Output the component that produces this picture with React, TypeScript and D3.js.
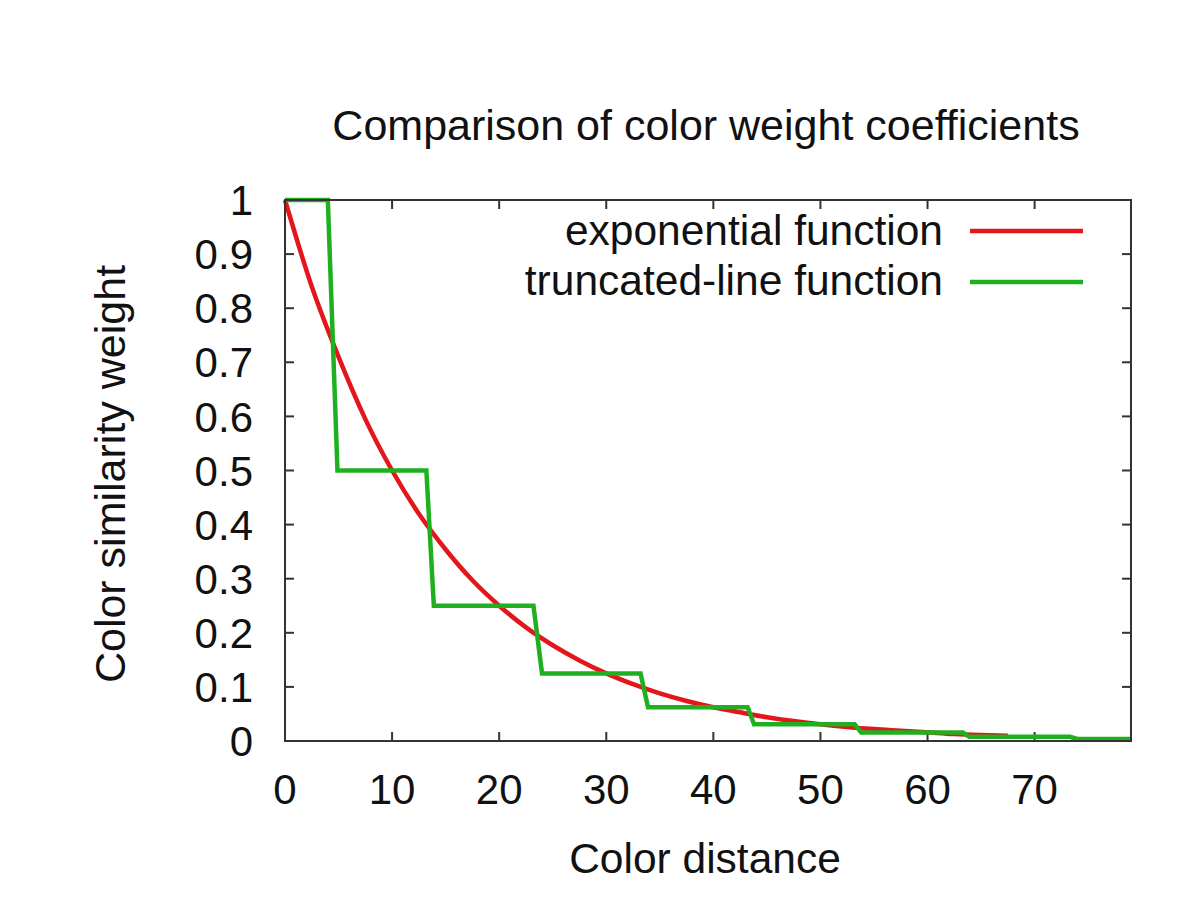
import React from "react";
import * as d3 from "d3";

const title = "Comparison of color weight coefficients";
const xLabel = "Color distance";
const yLabel = "Color similarity weight";
const seriesNames = ["exponential function", "truncated-line function"];

const xTicks = [0, 10, 20, 30, 40, 50, 60, 70];
const yTicks = [0, 0.1, 0.2, 0.3, 0.4, 0.5, 0.6, 0.7, 0.8, 0.9, 1];
const yTickLabels = ["0", "0.1", "0.2", "0.3", "0.4", "0.5", "0.6", "0.7", "0.8", "0.9", "1"];

const expX = [0, 2.5, 5, 7.5, 10, 12.5, 15, 17.5, 20, 22.5, 25, 27.5, 30, 32.5, 35, 37.5, 40, 42.5, 45, 47.5, 50, 52.5, 55, 57.5, 60, 62.5, 65, 67.5];
const expY = [1, 0.84, 0.71, 0.595, 0.5, 0.42, 0.354, 0.297, 0.25, 0.21, 0.177, 0.149, 0.125, 0.105, 0.088, 0.074, 0.0625, 0.053, 0.044, 0.037, 0.031, 0.026, 0.022, 0.019, 0.016, 0.013, 0.011, 0.0095];

const truncX = [0, 4, 4.9, 13.2, 13.9, 23.2, 24, 33.2, 33.9, 43.2, 43.8, 53.2, 53.8, 63.3, 63.9, 73.3, 74, 79];
const truncY = [1, 1, 0.5, 0.5, 0.25, 0.25, 0.125, 0.125, 0.0625, 0.0625, 0.031, 0.031, 0.0156, 0.0156, 0.0078, 0.0078, 0.0039, 0.0039];

const W = 1200, H = 900;
const FONT = "'Liberation Sans', Arial, Helvetica, sans-serif";

export default function App() {
  const x = d3.scaleLinear().domain([0, 79]).range([285, 1131]);
  const y = d3.scaleLinear().domain([0, 1]).range([741, 200]);
  const expLine = d3.line<[number, number]>().x(d => x(d[0])).y(d => y(d[1])).curve(d3.curveMonotoneX);
  const stepLine = d3.line<[number, number]>().x(d => x(d[0])).y(d => y(d[1]));
  const expPts = expX.map((v, i) => [v, expY[i]] as [number, number]);
  const truncPts = truncX.map((v, i) => [v, truncY[i]] as [number, number]);
  const [x0, x1] = x.range();
  const [y0, y1] = y.range();
  const tl = 9;
  const axisColor = "#333";
  const red = "#e3161b";
  const green = "#1fb01f";

  return (
    <svg width={W} height={H} style={{ position: "absolute", left: 0, top: 0, background: "#fff" }} fontFamily={FONT}>
      <rect x={0} y={0} width={W} height={H} fill="#fff" />
      {yTicks.map((t, i) => (
        <g key={"yt" + i}>
          <line x1={x0} x2={x0 + tl} y1={y(t)} y2={y(t)} stroke={axisColor} strokeWidth={2} />
          <line x1={x1} x2={x1 - tl} y1={y(t)} y2={y(t)} stroke={axisColor} strokeWidth={2} />
          <text x={253} y={y(t)} dy="0.36em" textAnchor="end" fontSize={42} fill="#111">{yTickLabels[i]}</text>
        </g>
      ))}
      {xTicks.map((t, i) => (
        <g key={"xt" + i}>
          <line x1={x(t)} x2={x(t)} y1={y0} y2={y0 - tl} stroke={axisColor} strokeWidth={2} />
          <line x1={x(t)} x2={x(t)} y1={y1} y2={y1 + tl} stroke={axisColor} strokeWidth={2} />
          <text x={x(t)} y={804} textAnchor="middle" fontSize={42} fill="#111">{t}</text>
        </g>
      ))}
      <path d={expLine(expPts) || ""} fill="none" stroke={red} strokeWidth={4.5} strokeLinejoin="round" />
      <path d={stepLine(truncPts) || ""} fill="none" stroke={green} strokeWidth={4.5} strokeLinejoin="miter" />
      <rect x={x0} y={y1} width={x1 - x0} height={y0 - y1} fill="none" stroke={axisColor} strokeWidth={2} />
      <text x={943} y={245} textAnchor="end" fontSize={42.5} fill="#111">{seriesNames[0]}</text>
      <line x1={970} x2={1083} y1={231} y2={231} stroke={red} strokeWidth={4.5} />
      <text x={943} y={295} textAnchor="end" fontSize={42.5} fill="#111">{seriesNames[1]}</text>
      <line x1={970} x2={1083} y1={282} y2={282} stroke={green} strokeWidth={4.5} />
      <text x={706} y={140} textAnchor="middle" fontSize={43} fill="#111">{title}</text>
      <text x={705} y={873} textAnchor="middle" fontSize={42.5} fill="#111">{xLabel}</text>
      <text transform={`translate(125,474) rotate(-90)`} textAnchor="middle" fontSize={43} fill="#111">{yLabel}</text>
    </svg>
  );
}
